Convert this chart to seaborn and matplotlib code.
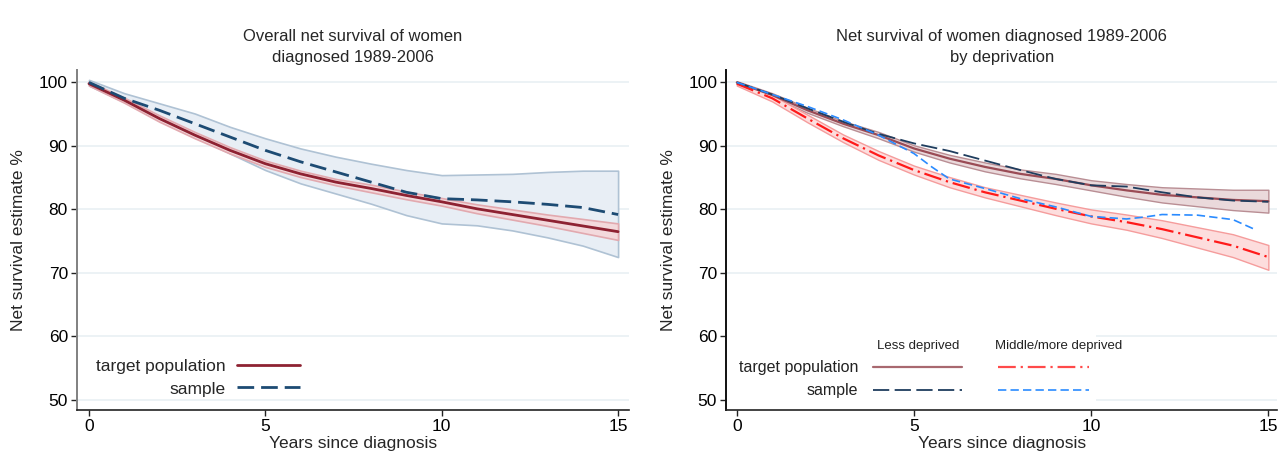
import numpy as np
import matplotlib
matplotlib.use("Agg")
import matplotlib.pyplot as plt
import seaborn as sns
from matplotlib.lines import Line2D
from matplotlib.patches import Rectangle

# ---- data ----
years = [0, 1, 2, 3, 4, 5, 6, 7, 8, 9, 10, 11, 12, 13, 14, 15]

# left panel: overall
target_all = [99.8, 97.2, 94.3, 91.7, 89.3, 87.2, 85.6, 84.3, 83.3, 82.2, 81.2, 80.1, 79.2, 78.3, 77.4, 76.5]
target_all_lo = [99.5, 96.8, 93.8, 91.2, 88.8, 86.7, 85.1, 83.8, 82.7, 81.6, 80.6, 79.4, 78.4, 77.4, 76.3, 75.2]
target_all_hi = [100.1, 97.6, 94.8, 92.2, 89.8, 87.7, 86.1, 84.8, 83.9, 82.8, 81.8, 80.8, 80.0, 79.2, 78.5, 77.8]
sample_all = [100.0, 97.5, 95.6, 93.5, 91.4, 89.3, 87.5, 85.9, 84.3, 82.7, 81.7, 81.5, 81.2, 80.8, 80.3, 79.2]
sample_all_lo = [99.5, 96.9, 94.1, 91.4, 88.8, 86.2, 84.1, 82.5, 80.9, 79.1, 77.8, 77.5, 76.7, 75.6, 74.3, 72.5]
sample_all_hi = [100.4, 98.3, 96.7, 95.1, 93.0, 91.2, 89.6, 88.3, 87.2, 86.2, 85.4, 85.5, 85.6, 85.9, 86.1, 86.1]

# right panel: by deprivation
target_less = [100.0, 98.0, 95.6, 93.5, 91.7, 89.6, 88.0, 86.7, 85.6, 84.8, 83.8, 83.0, 82.3, 81.9, 81.5, 81.3]
target_less_lo = [99.8, 97.7, 95.2, 93.1, 91.2, 89.1, 87.4, 86.0, 84.9, 84.0, 83.0, 82.0, 81.1, 80.5, 79.9, 79.5]
target_less_hi = [100.2, 98.3, 96.0, 93.9, 92.2, 90.1, 88.6, 87.4, 86.3, 85.6, 84.6, 84.0, 83.5, 83.3, 83.1, 83.1]
sample_less = [100.0, 98.1, 95.9, 93.8, 91.9, 90.4, 89.2, 87.7, 86.2, 84.8, 83.8, 83.6, 82.7, 81.9, 81.4, 81.2]

target_more = [99.8, 97.5, 94.3, 91.2, 88.5, 86.2, 84.3, 82.7, 81.4, 80.1, 78.9, 78.0, 76.9, 75.6, 74.3, 72.5]
target_more_lo = [99.5, 97.0, 93.7, 90.6, 87.8, 85.5, 83.5, 81.9, 80.5, 79.1, 77.8, 76.8, 75.5, 74.0, 72.5, 70.5]
target_more_hi = [100.1, 98.0, 94.9, 91.8, 89.2, 86.9, 85.1, 83.5, 82.3, 81.1, 80.0, 79.2, 78.3, 77.2, 76.1, 74.4]
years_more_sample = [0, 1, 2, 3, 4, 5, 5.5, 6, 7, 8, 9, 10, 11, 11.5, 12, 13, 14, 14.6]
sample_more = [100.0, 98.1, 96.2, 94.1, 91.7, 88.8, 86.7, 84.8, 83.3, 81.7, 80.4, 78.9, 78.5, 78.8, 79.2, 79.1, 78.4, 76.9]

y_ticks = [50, 60, 70, 80, 90, 100]
x_ticks = [0, 5, 10, 15]

sns.set_theme(style="white")
plt.rcParams["font.family"] = ["Liberation Sans", "DejaVu Sans"]

fig = plt.figure(figsize=(12.83, 4.72), dpi=100)
ax1 = fig.add_axes([0.060, 0.131, 0.430, 0.720])
ax2 = fig.add_axes([0.566, 0.131, 0.4295, 0.720])

GRID = "#EAF1F4"


def style_axes(ax, spine_color, xlim):
    ax.set_xlim(*xlim)
    ax.set_ylim(48.4, 101.9)
    ax.set_yticks(y_ticks)
    ax.set_xticks(x_ticks)
    ax.yaxis.grid(True, color=GRID, lw=1.3)
    ax.xaxis.grid(False)
    ax.set_axisbelow(True)
    for s in ["top", "right"]:
        ax.spines[s].set_visible(False)
    ax.spines["left"].set_color(spine_color)
    ax.spines["left"].set_linewidth(1.4)
    ax.spines["bottom"].set_color("#222222")
    ax.spines["bottom"].set_linewidth(1.2)
    ax.tick_params(axis="both", direction="out", length=4.5, width=1.0,
                   labelsize=12.5, colors="#222222", labelcolor="black",
                   left=True, bottom=True, pad=2)
    ax.set_xlabel("Years since diagnosis", fontsize=12.5, labelpad=1)
    ax.set_ylabel("Net survival estimate %", fontsize=12.5, labelpad=9)


# ---- left panel ----
ax1.fill_between(years, sample_all_lo, sample_all_hi, facecolor="#E8EEF5",
                 edgecolor="#AFC2D4", lw=1.2, zorder=2)
ax1.fill_between(years, target_all_lo, target_all_hi, facecolor="#F3D9DC",
                 edgecolor="#E2A9AF", lw=1.2, zorder=3)
sns.lineplot(x=years, y=target_all, ax=ax1, color="#8E2232", lw=2.0,
             errorbar=None, zorder=4)
sns.lineplot(x=years, y=sample_all, ax=ax1, color="#1D4B73", lw=2.0,
             linestyle=(0, (6, 2.5)), errorbar=None, zorder=5)
style_axes(ax1, "#808080", (-0.34, 15.3))
ax1.set_title("Overall net survival of women\ndiagnosed 1989-2006",
              fontsize=12, linespacing=1.5, pad=6)
handles = [Line2D([], [], color="#8E2232", lw=2.0),
           Line2D([], [], color="#1D4B73", lw=2.0, linestyle=(0, (6, 2.5)))]
ax1.legend(handles, ["target population", "sample"], markerfirst=False,
           loc="lower left", bbox_to_anchor=(0.035, 0.04), frameon=False,
           fontsize=12.5, handlelength=3.6, handletextpad=0.65,
           labelspacing=0.42, borderpad=0, borderaxespad=0)

# ---- right panel ----
ax2.fill_between(years, target_less_lo, target_less_hi, facecolor="#EAD9DB",
                 edgecolor="#B98E94", lw=1.0, zorder=2)
ax2.fill_between(years, target_more_lo, target_more_hi, facecolor="#FDDDDD",
                 edgecolor="#F59C9C", lw=1.0, zorder=2)
sns.lineplot(x=years, y=target_less, ax=ax2, color="#9A4B55", lw=1.6,
             errorbar=None, zorder=4)
sns.lineplot(x=years, y=sample_less, ax=ax2, color="#1F3D5E", lw=1.3,
             linestyle=(0, (9, 3)), errorbar=None, zorder=5)
sns.lineplot(x=years, y=target_more, ax=ax2, color="#FF1A1A", lw=1.6,
             linestyle=(0, (8, 2.2, 1, 2.2)), errorbar=None, zorder=4)
sns.lineplot(x=years_more_sample, y=sample_more, ax=ax2, color="#2A8BFF",
             lw=1.2, linestyle=(0, (5, 2.5)), errorbar=None, zorder=5)
style_axes(ax2, "#111111", (-0.3, 15.25))
ax2.set_title("Net survival of women diagnosed 1989-2006\nby deprivation",
              fontsize=12, linespacing=1.5, pad=6)

# custom two-column legend (Stata style)
tr = ax2.transAxes
ax2.add_patch(Rectangle((0.002, 0.015), 0.67, 0.225, transform=tr,
                        facecolor="white", edgecolor="none", zorder=1.5))
ax2.text(0.348, 0.19, "Less deprived", transform=tr, ha="center",
         va="center", fontsize=9.5, color="#222222")
ax2.text(0.603, 0.19, "Middle/more deprived", transform=tr, ha="center",
         va="center", fontsize=9.5, color="#222222")
ax2.text(0.240, 0.126, "target population", transform=tr, ha="right",
         va="center", fontsize=11.5, color="#222222")
ax2.text(0.240, 0.059, "sample", transform=tr, ha="right",
         va="center", fontsize=11.5, color="#222222")
ax2.add_line(Line2D([0.267, 0.428], [0.126, 0.126], transform=tr,
                    color="#A8686F", lw=1.6))
ax2.add_line(Line2D([0.267, 0.428], [0.059, 0.059], transform=tr,
                    color="#1F3D5E", lw=1.3, linestyle=(0, (9, 3))))
ax2.add_line(Line2D([0.494, 0.659], [0.126, 0.126], transform=tr,
                    color="#FF4A4A", lw=1.6, linestyle=(0, (8, 2.2, 1, 2.2))))
ax2.add_line(Line2D([0.494, 0.659], [0.059, 0.059], transform=tr,
                    color="#2A8BFF", lw=1.2, linestyle=(0, (5, 2.5))))

fig.savefig("out.png", dpi=100, facecolor="white")
